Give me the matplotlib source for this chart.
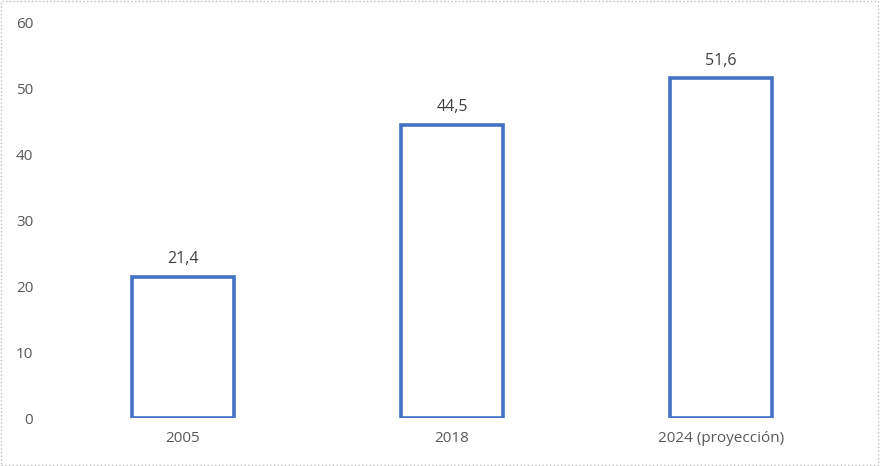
import matplotlib.pyplot as plt
from matplotlib.patches import Rectangle

categories = ["2005", "2018", "2024 (proyección)"]
values = [21.4, 44.5, 51.6]
value_labels = ["21,4", "44,5", "51,6"]
yticks = [0, 10, 20, 30, 40, 50, 60]

plt.rcParams["font.family"] = ["Open Sans", "DejaVu Sans"]

fig = plt.figure(figsize=(8.8, 4.66), dpi=100)
ax = fig.add_axes([48.5 / 880, 48 / 466, 807 / 880, 395 / 466])

x = range(len(categories))
bars = ax.bar(x, values, width=0.38, color="white", edgecolor="#4472C4", linewidth=2.6)

for bar, lab in zip(bars, value_labels):
    ax.annotate(lab, (bar.get_x() + bar.get_width() / 2, bar.get_height()),
                xytext=(0, 7), textcoords="offset points",
                ha="center", va="bottom", fontsize=11.5, color="#404040")

ax.set_xlim(-0.5, 2.5)
ax.set_ylim(0, 60)
ax.set_xticks(list(x))
ax.set_xticklabels(categories)
ax.set_yticks(yticks)
ax.tick_params(axis="both", length=0, labelsize=11, labelcolor="#595959")
ax.tick_params(axis="y", pad=11)
ax.tick_params(axis="x", pad=9)
for s in ax.spines.values():
    s.set_visible(False)

fig.patches.append(Rectangle((0.001, 0.002), 0.997, 0.995, transform=fig.transFigure,
                             fill=False, edgecolor="#bfbfbf", linestyle=":", linewidth=1))

fig.savefig("out.png", dpi=100)
